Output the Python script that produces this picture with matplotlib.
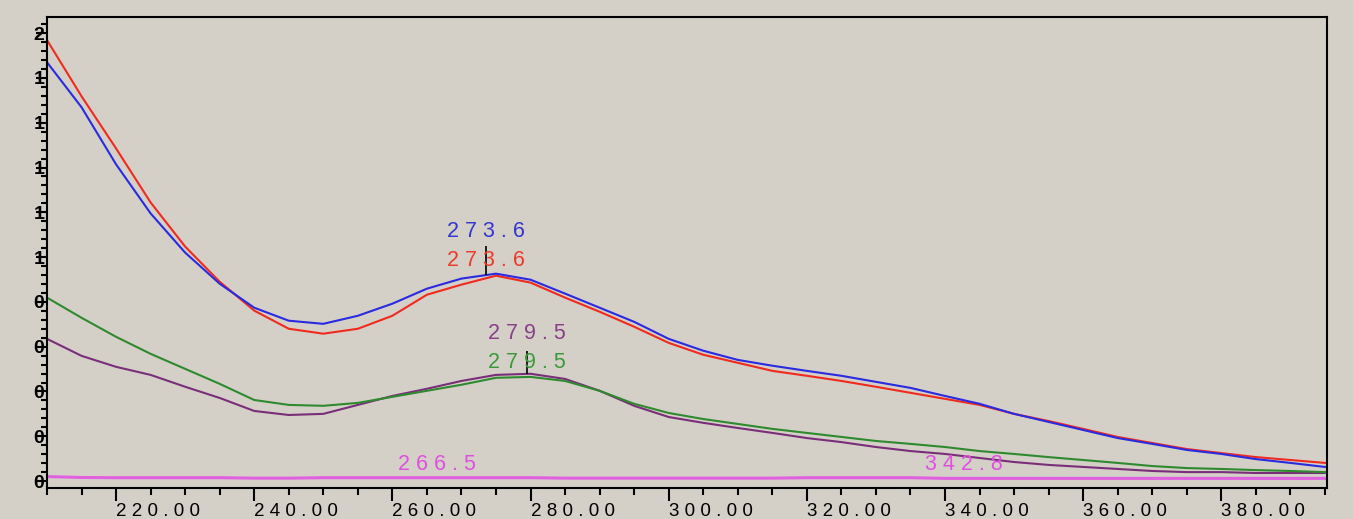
"""UV absorbance overlay of five samples with peak labels."""

import matplotlib

matplotlib.use("Agg")

import matplotlib.pyplot as plt
from matplotlib.ticker import MultipleLocator

# wavelength grid (nm), one reading every 5 nm
wavelengths = list(range(210, 400, 5))

blue_abs = [1.870, 1.669, 1.414, 1.195, 1.020, 0.881, 0.774, 0.716, 0.702, 0.738,
            0.792, 0.859, 0.904, 0.926, 0.899, 0.837, 0.774, 0.711, 0.635, 0.582,
            0.541, 0.515, 0.492, 0.470, 0.443, 0.416, 0.380, 0.345, 0.300, 0.264,
            0.228, 0.192, 0.166, 0.139, 0.121, 0.098, 0.081, 0.063]
red_abs = [1.969, 1.718, 1.485, 1.244, 1.047, 0.890, 0.761, 0.680, 0.658, 0.680,
           0.738, 0.832, 0.877, 0.917, 0.886, 0.819, 0.756, 0.689, 0.617, 0.564,
           0.528, 0.492, 0.470, 0.447, 0.421, 0.394, 0.367, 0.340, 0.300, 0.268,
           0.233, 0.197, 0.170, 0.143, 0.125, 0.107, 0.094, 0.081]
green_abs = [0.819, 0.729, 0.644, 0.568, 0.501, 0.434, 0.362, 0.340, 0.336, 0.349,
             0.376, 0.403, 0.430, 0.461, 0.465, 0.447, 0.403, 0.345, 0.304, 0.277,
             0.255, 0.233, 0.215, 0.197, 0.179, 0.166, 0.152, 0.134, 0.121, 0.107,
             0.094, 0.081, 0.067, 0.058, 0.054, 0.049, 0.045, 0.040]
purple_abs = [0.635, 0.559, 0.510, 0.474, 0.421, 0.371, 0.313, 0.295, 0.300, 0.340,
              0.380, 0.412, 0.447, 0.474, 0.479, 0.456, 0.403, 0.336, 0.286, 0.260,
              0.237, 0.215, 0.192, 0.174, 0.152, 0.134, 0.121, 0.103, 0.085, 0.072,
              0.063, 0.054, 0.045, 0.040, 0.040, 0.036, 0.036, 0.036]
magenta_abs = [0.020, 0.016, 0.015, 0.015, 0.015, 0.015, 0.013, 0.013, 0.015, 0.015,
               0.015, 0.015, 0.015, 0.015, 0.015, 0.013, 0.013, 0.013, 0.013, 0.013,
               0.013, 0.013, 0.015, 0.015, 0.015, 0.015, 0.012, 0.012, 0.012, 0.012,
               0.012, 0.012, 0.012, 0.012, 0.012, 0.012, 0.012, 0.012]

# peak annotations: (wavelength, label height, colour)
peak_labels = [
    (273.6, 1.114, "#3535d0"),
    (273.6, 0.984, "#ee3a2a"),
    (279.5, 0.658, "#884088"),
    (279.5, 0.528, "#3a9a3a"),
    (266.5, 0.076, "#e050e0"),
    (342.8, 0.076, "#e050e0"),
]
# vertical peak markers: (wavelength, top, bottom)
peak_marks = [(273.6, 1.05, 0.92), (279.5, 0.58, 0.48)]

y_ticks = [0.0, 0.2, 0.4, 0.6, 0.8, 1.0, 1.2, 1.4, 1.6, 1.8, 2.0]
x_ticks = [220, 240, 260, 280, 300, 320, 340, 360, 380]

BG = "#d4d0c8"
plt.rcParams["font.family"] = ["Liberation Sans", "DejaVu Sans"]

fig = plt.figure(figsize=(13.53, 5.19), dpi=100, facecolor=BG)
ax = fig.add_axes([47 / 1353, 31 / 519, 1280 / 1353, 471 / 519])
ax.set_facecolor(BG)

ax.plot(wavelengths, magenta_abs, color="#e060e0", linewidth=2.2)
ax.plot(wavelengths, purple_abs, color="#7a2e7a", linewidth=1.5)
ax.plot(wavelengths, green_abs, color="#2f8a2f", linewidth=1.5)
ax.plot(wavelengths, red_abs, color="#f02a1e", linewidth=1.5)
ax.plot(wavelengths, blue_abs, color="#2a2ae0", linewidth=1.5)

for x_val, y_val, colour in peak_labels:
    ax.text(x_val, y_val, " ".join(f"{x_val:.1f}"), color=colour,
            fontsize=15.5, ha="center", va="center")
for x_val, top, bottom in peak_marks:
    ax.vlines(x_val, bottom, top, color="black", linewidth=1.2)

ax.set_xlim(210, 395.3)
ax.set_ylim(-0.031, 2.072)

ax.set_xticks(x_ticks)
ax.set_xticklabels([" ".join(f"{v:.2f}") for v in x_ticks], ha="left")
ax.xaxis.set_minor_locator(MultipleLocator(5))
ax.set_yticks(y_ticks)
ax.set_yticklabels([f"{v:.1f}"[0] for v in y_ticks], fontweight="bold")
ax.yaxis.set_minor_locator(MultipleLocator(0.04))

ax.tick_params(axis="x", which="major", length=9, width=1.5, labelsize=13.5,
               pad=2, colors="black")
ax.tick_params(axis="x", which="minor", length=5, width=1.5)
ax.tick_params(axis="y", which="major", length=8, width=1.5, labelsize=14,
               pad=-6)
ax.tick_params(axis="y", which="minor", length=4, width=1.5)

for spine in ax.spines.values():
    spine.set_linewidth(1.5)
    spine.set_color("black")

fig.savefig("out.png", dpi=100, facecolor=BG)
